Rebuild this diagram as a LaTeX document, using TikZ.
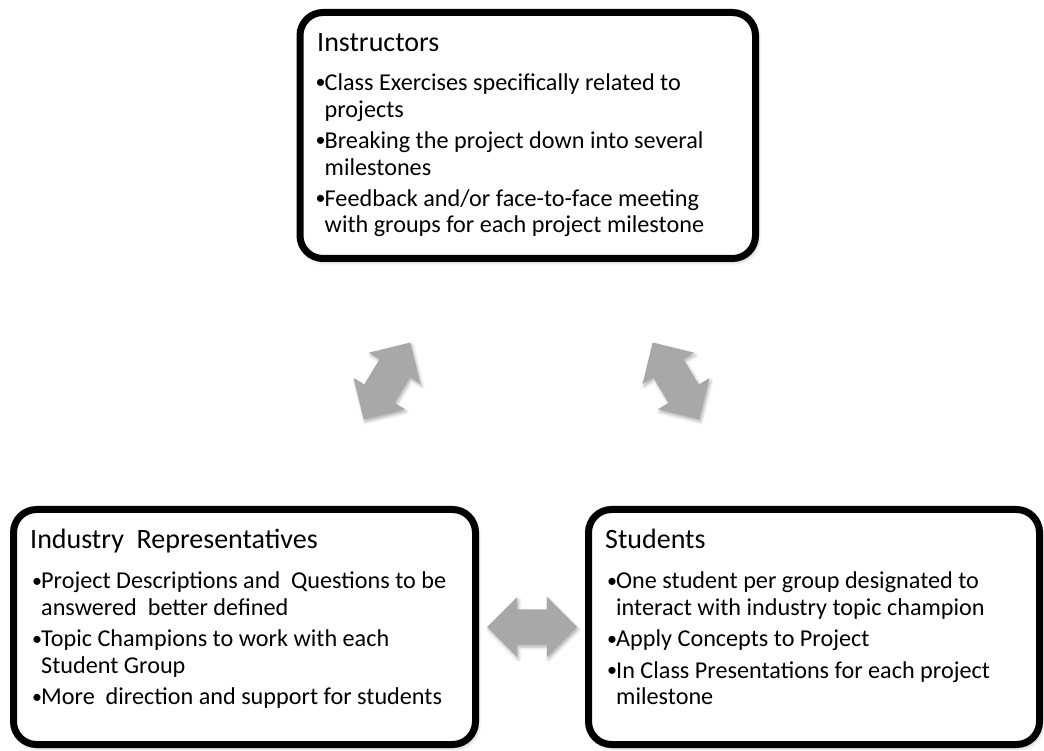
\documentclass[tikz,border=0pt]{standalone}
\usepackage{fontspec}
\setmainfont{Carlito}
\usepackage{tikz}
\usetikzlibrary{shapes.arrows,shadows.blur,calc}
\definecolor{arrowgray}{RGB}{168,168,168}
\newcommand{\bul}{\makebox[9pt][l]{\raisebox{1.5pt}{\fontsize{20}{20}\selectfont\textbullet}}}
\newcommand{\pitem}[1]{\hbox{\bul #1}}
\newcommand{\pcont}[1]{\hbox{\hspace*{9pt}#1}}
\newcommand{\panelgap}{\vskip4.5pt}
\newcommand{\panellines}[1]{\vtop{\fontsize{24.2}{26.7}\selectfont
  \baselineskip=26.7pt\lineskiplimit=-100pt\relax #1}}

\tikzset{
  panel/.style={draw=black, fill=white, line width=7pt, rounded corners=23pt,
    inner sep=0pt, blur shadow={shadow xshift=2pt, shadow yshift=-3pt,
    shadow blur radius=4pt, shadow opacity=35}},
  paneltitle/.style={anchor=base west, inner sep=0pt,
    font=\fontsize{28}{28}\selectfont},
  paneltext/.style={anchor=base west, inner sep=0pt},
  duarrow/.style={double arrow, fill=arrowgray, draw=none, inner xsep=0pt,
    inner ysep=17.5pt, minimum height=90pt, minimum width=60pt,
    double arrow head extend=12.5pt,
    blur shadow={shadow xshift=1.5pt, shadow yshift=-2.5pt,
    shadow blur radius=3pt, shadow opacity=30}}
}

\begin{document}
\begin{tikzpicture}[x=1pt,y=1pt]
\useasboundingbox (0,0) rectangle (1044,750);

\node[panel, minimum width=455.5pt, minimum height=246pt] (inst) at (527.75,614.5) {};
\node[panel, minimum width=462pt, minimum height=235pt] (ind) at (244.5,123) {};
\node[panel, minimum width=451pt, minimum height=235pt] (stu) at (814,123) {};

% instructors
\node[paneltitle] (inst-t) at (317,698) {Instructors};
\node[paneltext] (inst-b) at (315.5,659.5) {\panellines{
  \pitem{Class Exercises specifically related to}
  \pcont{projects}\panelgap
  \pitem{Breaking the project down into several}
  \pcont{milestones}\panelgap
  \pitem{Feedback and/or face-to-face meeting}
  \pcont{with groups for each project milestone}}};

% industry
\node[paneltitle] (ind-t) at (30,201) {Industry\ \ Representatives};
\node[paneltext] (ind-b) at (32,161) {\panellines{
  \pitem{Project Descriptions and\ \ Questions to be}
  \pcont{answered\ \ better defined}\panelgap
  \pitem{Topic Champions to work with each}
  \pcont{Student Group}\panelgap
  \pitem{More\ \ direction and support for students}}};

% students
\node[paneltitle] (stu-t) at (605,201) {Students};
\node[paneltext] (stu-b) at (607,161) {\panellines{
  \pitem{One student per group designated to}
  \pcont{interact with industry topic champion}\panelgap
  \pitem{Apply Concepts to Project}\panelgap
  \pitem{In Class Presentations for each project}
  \pcont{milestone}}};

% arrows between the panels
\node[duarrow, rotate=58.8] (a-left) at (387,369) {};
\node[duarrow, rotate=-58.8] (a-right) at (676,369) {};
\node[duarrow] (a-bottom) at ($(ind.east)!0.5!(stu.west)$) {};
\end{tikzpicture}
\end{document}
